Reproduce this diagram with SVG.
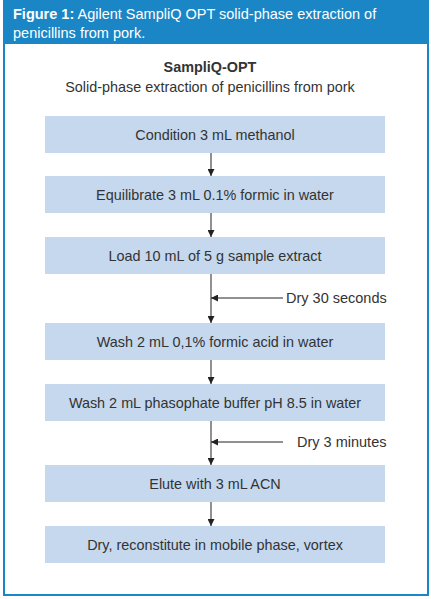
<svg xmlns="http://www.w3.org/2000/svg" width="431" height="599" viewBox="0 0 431 599">
<style>
.box{fill:#c5d8ee}
.t{font-family:"Liberation Sans",Arial,sans-serif;font-size:14.4px;fill:#333;text-anchor:middle}
.side{font-family:"Liberation Sans",Arial,sans-serif;font-size:14.5px;fill:#333}
.ln{stroke:#222;stroke-width:1;fill:none}
.hd{font-family:"Liberation Sans",Arial,sans-serif;font-size:14.5px;fill:#fff}
</style>
<defs>
<marker id="ah" viewBox="0 0 10 10" refX="10" refY="5" markerWidth="7" markerHeight="7" markerUnits="userSpaceOnUse" orient="auto">
<path d="M0,0 L10,5 L0,10 z" fill="#222"/>
</marker>
</defs>
<rect width="431" height="599" fill="#fff"/>
<g id="frame">
<rect x="4" y="1" width="424" height="594" fill="#fff" stroke="#1a86c6" stroke-width="2"/>
<rect x="3" y="0" width="426" height="44" fill="#1a86c6"/>
<text class="hd" x="13" y="19"><tspan font-weight="bold">Figure 1:</tspan> Agilent SampliQ OPT solid-phase extraction of</text>
<text class="hd" x="13" y="38">penicillins from pork.</text>
</g>
<g id="title">
<text class="t" x="210" y="72" font-weight="bold" fill="#222">SampliQ-OPT</text>
<text class="t" x="210" y="92" font-size="15">Solid-phase extraction of penicillins from pork</text>
</g>
<g id="n1"><rect class="box" x="45" y="116" width="340" height="37"/><text class="t" x="215" y="140">Condition 3 mL methanol</text></g>
<g id="n2"><rect class="box" x="45" y="176" width="340" height="37"/><text class="t" x="215" y="200">Equilibrate 3 mL 0.1% formic in water</text></g>
<g id="n3"><rect class="box" x="45" y="237" width="340" height="37"/><text class="t" x="215" y="261">Load 10 mL of 5 g sample extract</text></g>
<g id="n4"><rect class="box" x="45" y="323" width="340" height="37"/><text class="t" x="215" y="347">Wash 2 mL 0,1% formic acid in water</text></g>
<g id="n5"><rect class="box" x="45" y="384" width="340" height="37"/><text class="t" x="215" y="408">Wash 2 mL phasophate buffer pH 8.5 in water</text></g>
<g id="n6"><rect class="box" x="45" y="465" width="340" height="37"/><text class="t" x="215" y="489">Elute with 3 mL ACN</text></g>
<g id="n7"><rect class="box" x="45" y="526" width="340" height="37"/><text class="t" x="215" y="550">Dry, reconstitute in mobile phase, vortex</text></g>
<g id="l1"><text class="side" x="286" y="303">Dry 30 seconds</text></g>
<g id="l2"><text class="side" x="297" y="447">Dry 3 minutes</text></g>
<g id="connectors">
<line class="ln" x1="211" y1="153" x2="211" y2="176" marker-end="url(#ah)"/>
<line class="ln" x1="211" y1="213" x2="211" y2="237" marker-end="url(#ah)"/>
<line class="ln" x1="211" y1="274" x2="211" y2="323" marker-end="url(#ah)"/>
<line class="ln" x1="283" y1="298" x2="211" y2="298" marker-end="url(#ah)"/>
<line class="ln" x1="211" y1="360" x2="211" y2="384" marker-end="url(#ah)"/>
<line class="ln" x1="211" y1="421" x2="211" y2="465" marker-end="url(#ah)"/>
<line class="ln" x1="283" y1="442" x2="211" y2="442" marker-end="url(#ah)"/>
<line class="ln" x1="211" y1="502" x2="211" y2="526" marker-end="url(#ah)"/>
</g>
</svg>
